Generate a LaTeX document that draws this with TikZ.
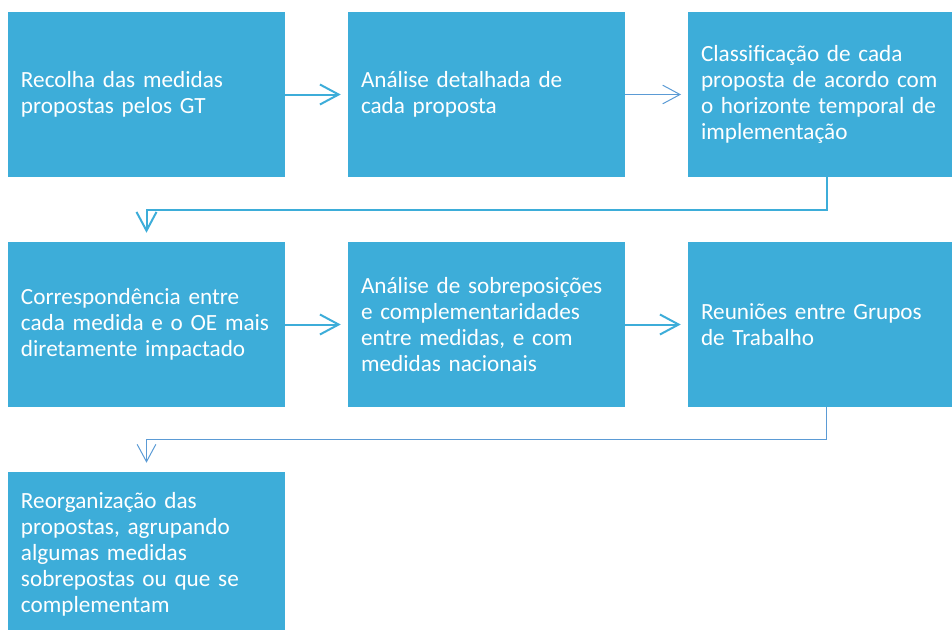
\documentclass[tikz,border=0pt]{standalone}
\usepackage{fontspec}
\setmainfont{Carlito}
\usepackage{xcolor}
\usetikzlibrary{arrows.meta, positioning}
\definecolor{boxblue}{RGB}{61,173,217}
\definecolor{linkblue}{RGB}{91,155,213}

\begin{document}
\begin{tikzpicture}[
                x=0.75pt, y=-0.75pt, % 1 unidade = 1 pixel
                stepbox/.style={rectangle, fill=boxblue, text=white, align=left, text width=188.25pt, inner xsep=9.75pt, minimum height=123.75pt, font=\fontsize{17.4}{19.5}\selectfont},
                flow/.style={-{Straight Barb[length=14pt, width=15pt]}, line width=1.5pt, draw=boxblue, shorten >=5.25pt},
                thinflow/.style={-{Straight Barb[length=13pt, width=14pt]}, line width=0.75pt, draw=linkblue, shorten >=5pt}
                ]
                \clip (0,0) rectangle (952,629);

                % Linha 1
                \node[stepbox] (recolha) at (146.5,94.5) {Recolha das medidas\\propostas pelos GT};
                \node[stepbox] (analise) at (486.5,94.5) {Análise detalhada de\\cada proposta};
                \node[stepbox] (classif) at (826.5,94.5) {Classificação de cada\\proposta de acordo com\\o horizonte temporal de\\implementação};

                % Linha 2
                \node[stepbox] (corresp) at (146.5,324.5) {Correspondência entre\\cada medida e o OE mais\\diretamente impactado};
                \node[stepbox] (sobrep) at (486.5,324.5) {Análise de sobreposições\\e complementaridades\\entre medidas, e com\\medidas nacionais};
                \node[stepbox] (reunioes) at (826.5,324.5) {Reuniões entre Grupos\\de Trabalho};

                % Linha 3
                \node[stepbox] (reorg) at (146.5,554.5) {Reorganização das\\propostas, agrupando\\algumas medidas\\sobrepostas ou que se\\complementam};

                % Ligações
                \draw[flow] (recolha) -- (analise);
                \draw[thinflow] (analise) -- (classif);
                \draw[flow, shorten >=6.75pt] (classif.south) -- ++(0,33) -| (corresp.north);
                \draw[flow] (corresp) -- (sobrep);
                \draw[flow] (sobrep) -- (reunioes);
                \draw[thinflow, shorten >=6.75pt] (reunioes.south) -- ++(0,32) -| (reorg.north);

\end{tikzpicture}
\end{document}
